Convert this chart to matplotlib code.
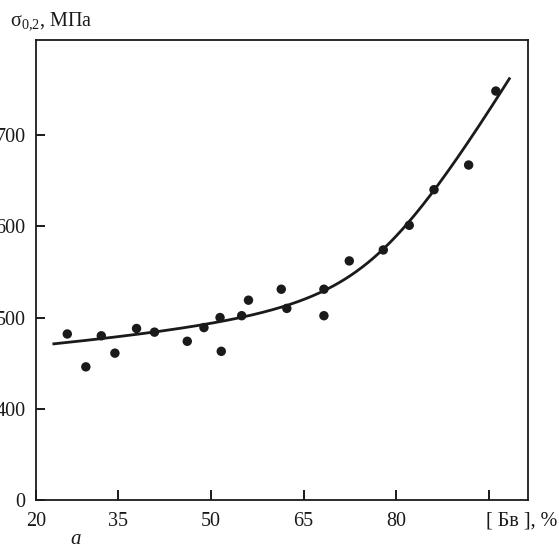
import numpy as np
import matplotlib.pyplot as plt

# measured points: Bv content (%) vs yield strength (MPa)
bv = [26.8, 29.8, 32.3, 34.5, 38.0, 40.9, 46.2, 48.9, 51.5, 51.7, 55.0,
      56.1, 61.4, 62.3, 68.3, 68.3, 72.4, 77.9, 82.1, 86.1, 91.7, 96.1]
sigma = [482, 446, 480, 461, 488, 484, 474, 489, 500, 463, 502,
         519, 531, 510, 531, 502, 562, 574, 601, 640, 667, 748]

# points
trend_x = [24.4, 32.3, 40.9, 48.9, 55.0, 61.4, 68.3, 77.9, 82.1, 86.1, 90.3, 98.4]
trend_y = [471.8, 476.2, 483.4, 490.5, 502, 514, 531, 574, 600.6, 638, 683, 762]

x_ticks = [35, 50, 65, 80, 95]
y_ticks = [400, 500, 600, 700]

ink = '#1a1a1a'
plt.rcParams['font.family'] = ['Liberation Serif', 'DejaVu Serif']
plt.rcParams['mathtext.fontset'] = 'custom'
plt.rcParams['mathtext.rm'] = 'Liberation Serif'
plt.rcParams['mathtext.it'] = 'Liberation Serif:italic'

# trend curve: hyperbola-like conic fitted to the read points
tx = (np.array(trend_x) - 60) / 40
ty = (np.array(trend_y) - 600) / 150
M = np.column_stack([tx**2, tx * ty, ty**2, tx, ty, np.ones_like(tx)])
A, B, C, D, E, F = np.linalg.svd(M)[2][-1]
xs = np.linspace(trend_x[0], trend_x[-1], 400)
u = (xs - 60) / 40
disc = np.clip((B * u + E)**2 - 4 * C * (A * u**2 + D * u + F), 0, None)
roots = [(-(B * u + E) + sg * np.sqrt(disc)) / (2 * C) for sg in (1, -1)]
ut = (np.array(trend_x) - 60) / 40
errs = [np.sum((np.interp(ut, u, r) - ty)**2) for r in roots]
ys = roots[int(np.argmin(errs))] * 150 + 600

fig = plt.figure(figsize=(5.59, 5.47), dpi=100)
ax = fig.add_axes([36 / 559, 1 - 500 / 547, 492 / 559, 460 / 547])

x0, x1 = 21.74, 101.3
y0, y1 = 300.2, 803.9

ax.plot(xs, ys, color=ink, lw=2.0, solid_capstyle='butt')
ax.scatter(bv, sigma, s=46, color=ink, edgecolors='none', zorder=3)

ax.set_xlim(x0, x1)
ax.set_ylim(y0, y1)

ax.set_xticks([x0] + x_ticks)
ax.set_xticklabels(['20', '35', '50', '65', '80', ''])
ax.set_yticks([y0] + y_ticks)
ax.set_yticklabels(['0'] + [str(v) for v in y_ticks])

ax.tick_params(axis='x', direction='in', length=7, width=1.4, pad=9,
               labelsize=14.5, colors=ink)
ax.tick_params(axis='y', direction='in', length=6.5, width=1.4, pad=7.5,
               labelsize=14.5, colors=ink)
for s in ax.spines.values():
    s.set_linewidth(1.3)
    s.set_color(ink)

fig.text(10 / 559, 1 - 25 / 547, r'σ$_{\mathrm{0{,}2}}$, МПа', fontsize=14.5,
         color=ink, ha='left', va='baseline')
fig.text(486 / 559, 1 - 521 / 547, '[ Бв ], %', fontsize=14.5, color=ink,
         ha='left', va='center')
fig.text(76 / 559, 1 - 539 / 547, 'a', fontsize=15, style='italic', color=ink,
         ha='center', va='center')

fig.savefig('out.png', dpi=100)
